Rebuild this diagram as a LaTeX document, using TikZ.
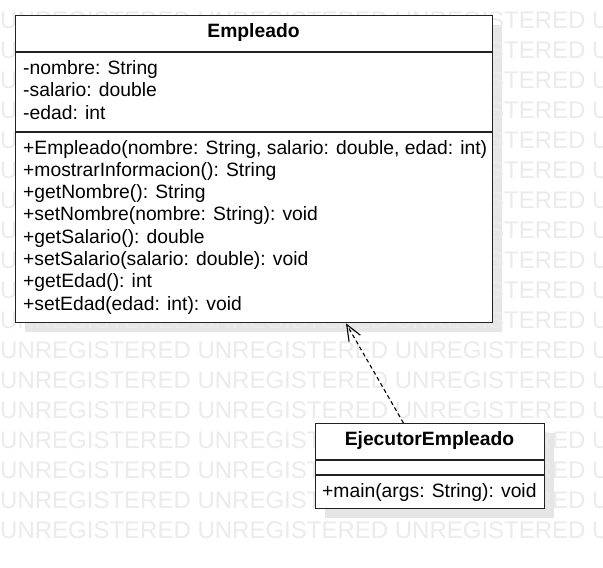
\documentclass[tikz,border=0pt]{standalone}
\usepackage{fontspec}
\setmainfont{Liberation Sans}
\usetikzlibrary{arrows.meta,calc}
\definecolor{wm}{HTML}{EBEBEB}
\definecolor{shade}{HTML}{E6E6E6}
\definecolor{ink}{HTML}{222222}
\tikzset{
  wmark/.style={anchor=west, inner sep=0pt, text=wm, font=\fontsize{24}{24}\selectfont},
  classbox/.style={draw=ink, line width=1.3pt, fill=white, anchor=north west, inner sep=0pt},
  shadowbox/.style={fill=shade, anchor=north west, inner sep=0pt, draw=none},
  sep/.style={draw=ink, line width=1.3pt},
  title/.style={inner sep=0pt, font=\fontsize{19.3}{22}\selectfont\bfseries},
  member/.style={anchor=base west, inner sep=0pt, font=\fontsize{19.3}{22}\selectfont},
  realize/.style={draw=black, line width=1.1pt, dash pattern=on 4pt off 3pt,
    -{Straight Barb[length=16pt,width=13pt,line width=1.1pt]}}
}
\begin{document}
\begin{tikzpicture}[x=1pt,y=-1pt]
\clip (0,0) rectangle (603,568);
\fill[white] (0,0) rectangle (603,568);
% shadows
\node[shadowbox, minimum width=477pt, minimum height=307pt] (empsh) at (25,25) {};
\node[shadowbox, minimum width=229pt, minimum height=85pt] (ejsh) at (325,433) {};
% watermark
\foreach \k in {0,...,17}{
  \node[wmark] (wm\k) at (0,20+30*\k) {UNREGISTERED UNREGISTERED UNREGISTERED UNREGISTERED};
}
% Empleado
\node[classbox, minimum width=477pt, minimum height=307pt] (emp) at (15,15) {};
\draw[sep] (emp.west |- 0,52) coordinate (e1a) -- (emp.east |- 0,52) coordinate (e1b);
\draw[sep] (emp.west |- 0,132) coordinate (e2a) -- (emp.east |- 0,132) coordinate (e2b);
\node[title] (empt) at (253.5,33) {Empleado};
\node[member] (a1) at (23,74) {-nombre: String};
\node[member] (a2) at (23,96.5) {-salario: double};
\node[member] (a3) at (23,119) {-edad: int};
\node[member] (m1) at (23,154) {+Empleado(nombre: String, salario: double, edad: int)};
\node[member] (m2) at (23,176.3) {+mostrarInformacion(): String};
\node[member] (m3) at (23,198.6) {+getNombre(): String};
\node[member] (m4) at (23,220.9) {+setNombre(nombre: String): void};
\node[member] (m5) at (23,243.2) {+getSalario(): double};
\node[member] (m6) at (23,265.5) {+setSalario(salario: double): void};
\node[member] (m7) at (23,287.8) {+getEdad(): int};
\node[member] (m8) at (23,310.1) {+setEdad(edad: int): void};
% EjecutorEmpleado
\node[classbox, minimum width=229pt, minimum height=85pt] (ej) at (315,423) {};
\draw[sep] (ej.west |- 0,460) coordinate (j1a) -- (ej.east |- 0,460) coordinate (j1b);
\draw[sep] (ej.west |- 0,475) coordinate (j2a) -- (ej.east |- 0,475) coordinate (j2b);
\node[title] (ejt) at (429.5,441) {EjecutorEmpleado};
\node[member] (jm1) at (322,497.5) {+main(args: String): void};
% dependency
\draw[realize] ($(ej.north west)!0.384!(ej.north east)$) -- ($(emp.south west)!0.692!(emp.south east)$);
\end{tikzpicture}
\end{document}
